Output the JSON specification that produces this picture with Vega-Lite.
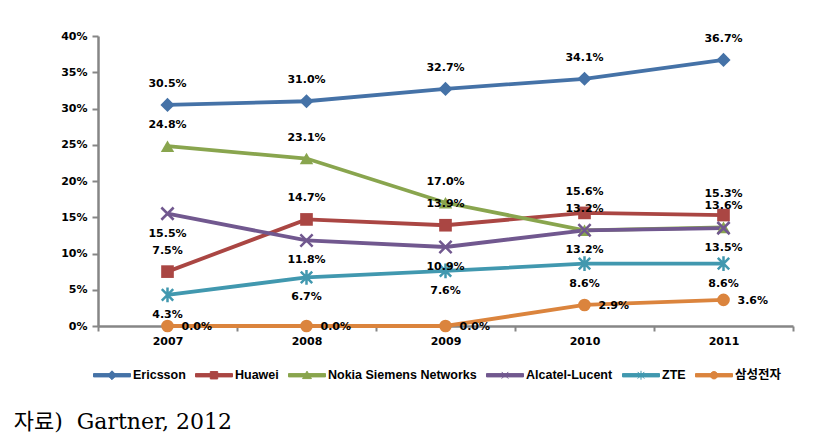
{
  "$schema": "https://vega.github.io/schema/vega-lite/v6.json",
  "width": 695,
  "height": 290,
  "autosize": {"type": "none"},
  "padding": {"left": 98, "top": 36, "right": 35, "bottom": 117},
  "background": "white",
  "config": {"view": {"stroke": null}, "font": "DejaVu Sans"},
  "title": {
    "text": "자료)\u00a0 Gartner, 2012",
    "orient": "bottom",
    "anchor": "start",
    "font": "DejaVu Serif, Noto Sans CJK KR",
    "fontSize": 22,
    "fontWeight": "normal",
    "color": "black",
    "dx": -47,
    "offset": 30
  },
  "data": {
    "values": [
      {"year": "2007", "company": "Ericsson", "share": 0.305},
      {"year": "2008", "company": "Ericsson", "share": 0.310},
      {"year": "2009", "company": "Ericsson", "share": 0.327},
      {"year": "2010", "company": "Ericsson", "share": 0.341},
      {"year": "2011", "company": "Ericsson", "share": 0.367},
      {"year": "2007", "company": "Huawei", "share": 0.075},
      {"year": "2008", "company": "Huawei", "share": 0.147},
      {"year": "2009", "company": "Huawei", "share": 0.139},
      {"year": "2010", "company": "Huawei", "share": 0.156},
      {"year": "2011", "company": "Huawei", "share": 0.153},
      {"year": "2007", "company": "Nokia Siemens Networks", "share": 0.248},
      {"year": "2008", "company": "Nokia Siemens Networks", "share": 0.231},
      {"year": "2009", "company": "Nokia Siemens Networks", "share": 0.170},
      {"year": "2010", "company": "Nokia Siemens Networks", "share": 0.132},
      {"year": "2011", "company": "Nokia Siemens Networks", "share": 0.136},
      {"year": "2007", "company": "Alcatel-Lucent", "share": 0.155},
      {"year": "2008", "company": "Alcatel-Lucent", "share": 0.118},
      {"year": "2009", "company": "Alcatel-Lucent", "share": 0.109},
      {"year": "2010", "company": "Alcatel-Lucent", "share": 0.132},
      {"year": "2011", "company": "Alcatel-Lucent", "share": 0.135},
      {"year": "2007", "company": "ZTE", "share": 0.043},
      {"year": "2008", "company": "ZTE", "share": 0.067},
      {"year": "2009", "company": "ZTE", "share": 0.076},
      {"year": "2010", "company": "ZTE", "share": 0.086},
      {"year": "2011", "company": "ZTE", "share": 0.086},
      {"year": "2007", "company": "삼성전자", "share": 0.0},
      {"year": "2008", "company": "삼성전자", "share": 0.0},
      {"year": "2009", "company": "삼성전자", "share": 0.0},
      {"year": "2010", "company": "삼성전자", "share": 0.029},
      {"year": "2011", "company": "삼성전자", "share": 0.036}
    ]
  },
  "encoding": {
    "x": {
      "field": "year",
      "type": "ordinal",
      "scale": {"type": "band", "paddingInner": 0, "paddingOuter": 0},
      "axis": {
        "title": null,
        "labelAngle": 0,
        "tickBand": "extent",
        "domainColor": "#868686",
        "domainWidth": 2.5,
        "tickColor": "#868686",
        "tickWidth": 2,
        "tickSize": 5,
        "labelFont": "DejaVu Sans",
        "labelFontWeight": "bold",
        "labelFontSize": 11,
        "labelColor": "black",
        "labelPadding": 4
      }
    },
    "y": {
      "field": "share",
      "type": "quantitative",
      "scale": {"domain": [0, 0.4], "nice": false},
      "axis": {
        "title": null,
        "format": ".0%",
        "values": [0, 0.05, 0.1, 0.15, 0.2, 0.25, 0.3, 0.35, 0.4],
        "grid": false,
        "domainColor": "#868686",
        "domainWidth": 2.5,
        "tickColor": "#868686",
        "tickWidth": 2,
        "tickSize": 6,
        "labelFont": "DejaVu Sans",
        "labelFontWeight": "bold",
        "labelFontSize": 11,
        "labelColor": "black",
        "labelPadding": 5
      }
    },
    "color": {
      "field": "company",
      "type": "nominal",
      "sort": ["Ericsson", "Huawei", "Nokia Siemens Networks", "Alcatel-Lucent", "ZTE", "삼성전자"],
      "scale": {
        "domain": ["Ericsson", "Huawei", "Nokia Siemens Networks", "Alcatel-Lucent", "ZTE", "삼성전자"],
        "range": ["#4572A7", "#AA4643", "#89A54E", "#71588F", "#4198AF", "#DB843D"]
      },
      "legend": {
        "title": null,
        "orient": "none",
        "direction": "horizontal",
        "legendX": -5,
        "legendY": 320,
        "symbolSize": 1369,
        "symbolType": "M-1,-0.09H1V0.09H-1Z",
        "labelOffset": 2,
        "columnPadding": 7,
        "labelFont": "Liberation Sans, Noto Sans CJK KR",
        "labelFontWeight": "bold",
        "labelFontSize": 12.5,
        "labelColor": "black",
        "encode": {
          "symbols": {
            "update": {
              "shape": {"signal": "datum.value === 'Ericsson' ? 'M-1,-0.09H1V0.09H-1Z M0,-0.24L0.24,0L0,0.24L-0.24,0Z' : datum.value === 'Huawei' ? 'M-1,-0.09H1V0.09H-1Z M-0.2,-0.2H0.2V0.2H-0.2Z' : datum.value === 'Nokia Siemens Networks' ? 'M-1,-0.09H1V0.09H-1Z M0,-0.22L0.24,0.18H-0.24Z' : datum.value === 'Alcatel-Lucent' ? 'M-1,-0.09H1V0.09H-1Z M-0.18,-0.18L0.18,0.18M-0.18,0.18L0.18,-0.18' : datum.value === 'ZTE' ? 'M-1,-0.09H1V0.09H-1Z M-0.18,-0.18L0.18,0.18M-0.18,0.18L0.18,-0.18M0,-0.24V0.24' : 'M-1,-0.09H1V0.09H-1Z M-0.2,0A0.2,0.2 0 1,1 0.2,0A0.2,0.2 0 1,1 -0.2,0Z'"},
              "fill": {"signal": "scale('color', datum.value)"},
              "stroke": {"signal": "scale('color', datum.value)"},
              "strokeWidth": {"value": 1},
              "opacity": {"value": 1}
            }
          }
        }
      }
    }
  },
  "layer": [
    {
      "mark": {"type": "line", "strokeWidth": 3.8}
    },
    {
      "transform": [{"filter": {"field": "company", "equal": "Ericsson"}}],
      "mark": {"type": "point", "shape": "diamond", "filled": true, "size": 200, "strokeWidth": 1, "opacity": 1}
    },
    {
      "transform": [{"filter": {"field": "company", "equal": "Huawei"}}],
      "mark": {"type": "point", "shape": "square", "filled": true, "size": 160, "opacity": 1}
    },
    {
      "transform": [{"filter": {"field": "company", "equal": "Nokia Siemens Networks"}}],
      "mark": {"type": "point", "shape": "triangle-up", "filled": true, "size": 180, "opacity": 1}
    },
    {
      "transform": [{"filter": {"field": "company", "equal": "Alcatel-Lucent"}}],
      "mark": {"type": "point", "shape": "M-1,-1L1,1M-1,1L1,-1", "filled": false, "size": 150, "strokeWidth": 2.5, "opacity": 1}
    },
    {
      "transform": [{"filter": {"field": "company", "equal": "ZTE"}}],
      "mark": {"type": "point", "shape": "M-1,-1L1,1M-1,1L1,-1M0,-1.3V1.3", "filled": false, "size": 130, "strokeWidth": 2.5, "opacity": 1}
    },
    {
      "transform": [{"filter": {"field": "company", "equal": "삼성전자"}}],
      "mark": {"type": "point", "shape": "circle", "filled": true, "size": 160, "opacity": 1}
    },
    {
      "transform": [{"filter": {"field": "company", "oneOf": ["Ericsson", "Huawei", "Nokia Siemens Networks"]}}],
      "mark": {"type": "text", "dy": -21, "font": "DejaVu Sans", "fontWeight": "bold", "fontSize": 11, "color": "black"},
      "encoding": {"text": {"field": "share", "type": "quantitative", "format": ".1%"}, "color": {"value": "black"}}
    },
    {
      "transform": [{"filter": {"field": "company", "oneOf": ["Alcatel-Lucent", "ZTE"]}}],
      "mark": {"type": "text", "dy": 20, "font": "DejaVu Sans", "fontWeight": "bold", "fontSize": 11, "color": "black"},
      "encoding": {"text": {"field": "share", "type": "quantitative", "format": ".1%"}, "color": {"value": "black"}}
    },
    {
      "transform": [{"filter": {"field": "company", "equal": "삼성전자"}}],
      "mark": {"type": "text", "align": "left", "dx": 14, "dy": 1, "font": "DejaVu Sans", "fontWeight": "bold", "fontSize": 11, "color": "black"},
      "encoding": {"text": {"field": "share", "type": "quantitative", "format": ".1%"}, "color": {"value": "black"}}
    }
  ]
}
